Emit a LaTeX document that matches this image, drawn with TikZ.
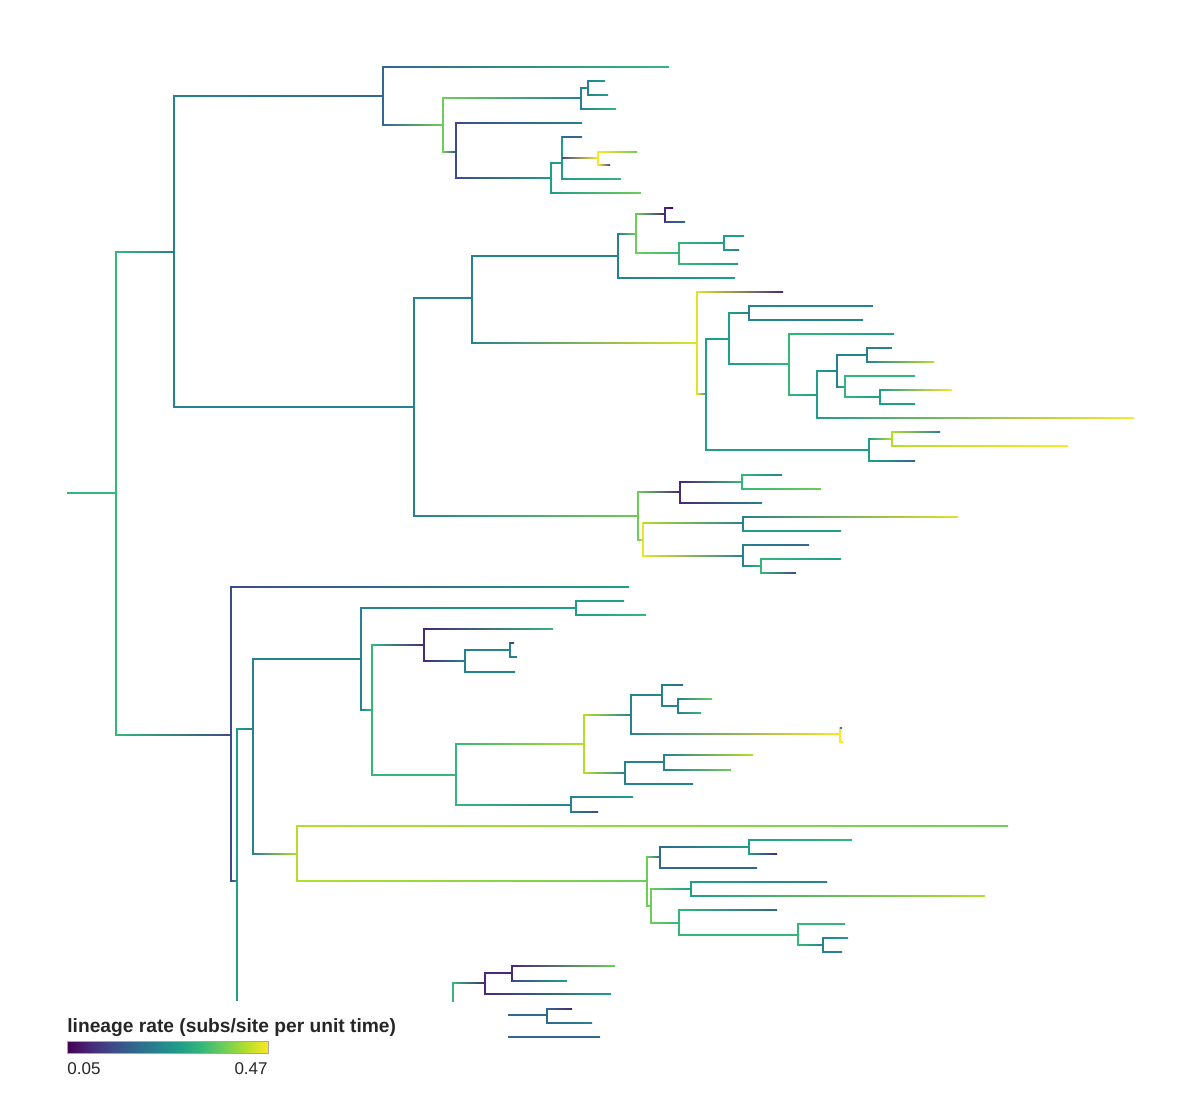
\documentclass[tikz,border=0pt]{standalone}
\usepackage{fontspec}
\setmainfont{Liberation Sans}
\usepackage{xcolor}
\usepackage{tikz}
\usetikzlibrary{calc}

% viridis stops
\definecolor{vA}{HTML}{440154}
\definecolor{vB}{HTML}{482878}
\definecolor{vC}{HTML}{3E4A89}
\definecolor{vD}{HTML}{31688E}
\definecolor{vE}{HTML}{26828E}
\definecolor{vF}{HTML}{1F9E89}
\definecolor{vG}{HTML}{35B779}
\definecolor{vH}{HTML}{6DCD59}
\definecolor{vI}{HTML}{B4DE2C}
\definecolor{vJ}{HTML}{FDE725}
\colorlet{vK}{vI!40!vJ}

\pgfdeclarehorizontalshading{viridis}{100bp}{color(0bp)=(vA); color(25bp)=(vA);
  color(30.556bp)=(vB); color(36.111bp)=(vC); color(41.667bp)=(vD);
  color(47.222bp)=(vE); color(52.778bp)=(vF); color(58.333bp)=(vG);
  color(63.889bp)=(vH); color(69.444bp)=(vI); color(75bp)=(vJ); color(100bp)=(vJ)}

% node: name, x, y, top, bottom, colour
\newcommand{\tnode}[6]{%
  \coordinate (#1) at (#2,#3);
  \draw[branch,#6] (#2,#4) -- (#2,#5);}
% branch from parent to child, colour at parent, colour at child
\newcommand{\tedge}[4]{%
  \shade[left color=#3,right color=#4] let \p1=(#1),\p2=(#2) in
    (\x1,\y2-0.42pt) rectangle (\x2,\y2+0.42pt);}
% tip: parent, x of tip, y, colour at parent, colour at tip
\newcommand{\tleaf}[5]{%
  \shade[left color=#4,right color=#5] let \p1=(#1),\p2=(#2,#3) in
    (\x1,\y2-0.42pt) rectangle (\x2,\y2+0.42pt);}

\begin{document}
\begin{tikzpicture}[
    x=0.5pt, y=-0.5pt,
    branch/.style={line width=0.9pt, line cap=rect},
    legtitle/.style={inner sep=0, text=black!85, font=\fontsize{9.6}{11}\selectfont\bfseries},
    legvalue/.style={inner sep=0, text=black!85, font=\fontsize{8.5}{10}\selectfont},
    colourbar/.style={shade, shading=viridis, draw=black!35, line width=0.4pt,
        inner sep=0, minimum width=100.5pt, minimum height=6pt}
]
\useasboundingbox (0,0) rectangle (1200,1104);

% root
\coordinate (stem) at (67,493);
\tnode{nA}{116}{493}{252}{735}{vG}
\tedge{stem}{nA}{vG}{vG}
\tnode{nB}{174}{252}{96}{407}{vE}
\tedge{nA}{nB}{vG}{vE}

% upper clade
\tnode{nD}{383}{96}{67}{125}{vD}
\tedge{nB}{nD}{vE}{vD}
\tleaf{nD}{669}{67}{vD}{vG}
\tnode{nF}{443}{125}{98}{152}{vH}
\tedge{nD}{nF}{vD}{vH}
\tnode{nG}{581}{98}{88}{109}{vE}
\tedge{nF}{nG}{vH}{vE}
\tnode{nGa}{588}{88}{81}{95}{vE}
\tedge{nG}{nGa}{vE}{vE}
\tleaf{nGa}{605}{81}{vE}{vF}
\tleaf{nGa}{608}{95}{vE}{vF}
\tleaf{nG}{616}{109}{vE}{vG}
\tnode{nH}{456}{152}{123}{178}{vC}
\tedge{nF}{nH}{vH}{vC}
\tleaf{nH}{582}{123}{vC}{vE}
\tnode{nI}{551}{178}{163}{193}{vF}
\tedge{nH}{nI}{vC}{vF}
\tleaf{nI}{641}{193}{vF}{vH}
\tnode{nJ}{562}{163}{137}{179}{vF}
\tedge{nI}{nJ}{vF}{vF}
\tleaf{nJ}{582}{137}{vD}{vD}
\tnode{nK}{598}{158}{152}{165}{vJ}
\tedge{nJ}{nK}{vC}{vJ}
\tleaf{nK}{637}{152}{vJ}{vH}
\tleaf{nK}{610}{165}{vJ}{vC}
\tleaf{nJ}{621}{179}{vF}{vG}

\tnode{nE}{414}{407}{298}{516}{vE}
\tedge{nB}{nE}{vE}{vE}
\tnode{nL}{472}{298}{256}{343}{vE}
\tedge{nE}{nL}{vE}{vE}
\tnode{nN}{618}{256}{234}{278}{vE}
\tedge{nL}{nN}{vE}{vE}
\tnode{nP}{636}{234}{214}{253}{vH}
\tedge{nN}{nP}{vE}{vH}
\tnode{nQ}{665}{214}{208}{222}{vB}
\tedge{nP}{nQ}{vH}{vB}
\tleaf{nQ}{673}{208}{vB}{vA}
\tleaf{nQ}{685}{222}{vC}{vD}
\tnode{nR}{679}{253}{243}{264}{vG}
\tedge{nP}{nR}{vH}{vG}
\tnode{nS}{724}{243}{236}{250}{vF}
\tedge{nR}{nS}{vG}{vF}
\tleaf{nS}{744}{236}{vF}{vF}
\tleaf{nS}{739}{250}{vF}{vE}
\tleaf{nR}{738}{264}{vG}{vF}
\tleaf{nN}{735}{278}{vE}{vF}

\tnode{nO}{697}{343}{292}{394}{vK}
\tedge{nL}{nO}{vE}{vK}
\tleaf{nO}{783}{292}{vK}{vB}
\tnode{nT}{706}{394}{339}{450}{vF}
\tedge{nO}{nT}{vK}{vF}
\tnode{nU}{729}{339}{313}{364}{vF}
\tedge{nT}{nU}{vF}{vF}
\tnode{nW}{749}{313}{306}{320}{vE}
\tedge{nU}{nW}{vF}{vE}
\tleaf{nW}{873}{306}{vE}{vE}
\tleaf{nW}{863}{320}{vE}{vE}
\tnode{nX}{789}{364}{334}{395}{vG}
\tedge{nU}{nX}{vF}{vG}
\tleaf{nX}{894}{334}{vG}{vF}
\tnode{nY}{817}{395}{371}{418}{vF}
\tedge{nX}{nY}{vG}{vF}
\tnode{nZ}{837}{371}{355}{387}{vE}
\tedge{nY}{nZ}{vF}{vE}
\tnode{nAA}{867}{355}{348}{362}{vE}
\tedge{nZ}{nAA}{vE}{vE}
\tleaf{nAA}{892}{348}{vE}{vE}
\tleaf{nAA}{934}{362}{vE}{vI}
\tnode{nAB}{845}{387}{376}{397}{vG}
\tedge{nZ}{nAB}{vE}{vG}
\tleaf{nAB}{915}{376}{vG}{vG}
\tnode{nAC}{880}{397}{390}{404}{vF}
\tedge{nAB}{nAC}{vG}{vF}
\tleaf{nAC}{952}{390}{vF}{vJ}
\tleaf{nAC}{915}{404}{vF}{vF}
\tleaf{nY}{1134}{418}{vF}{vJ}
\tnode{nV}{869}{450}{439}{461}{vF}
\tedge{nT}{nV}{vF}{vF}
\tnode{nAD}{892}{439}{432}{446}{vI}
\tedge{nV}{nAD}{vF}{vI}
\tleaf{nAD}{940}{432}{vI}{vE}
\tleaf{nAD}{1068}{446}{vI}{vJ}
\tleaf{nV}{915}{461}{vF}{vD}

\tnode{nM}{638}{516}{492}{540}{vH}
\tedge{nE}{nM}{vE}{vH}
\tnode{nAE}{680}{492}{482}{503}{vB}
\tedge{nM}{nAE}{vH}{vB}
\tnode{nAG}{742}{482}{475}{489}{vG}
\tedge{nAE}{nAG}{vB}{vG}
\tleaf{nAG}{782}{475}{vG}{vE}
\tleaf{nAG}{821}{489}{vG}{vH}
\tleaf{nAE}{762}{503}{vB}{vE}
\tnode{nAF}{643}{540}{523}{556}{vI!30!vJ}
\tedge{nM}{nAF}{vH}{vI!30!vJ}
\tnode{nAH}{743}{523}{517}{531}{vE}
\tedge{nAF}{nAH}{vI}{vE}
\tleaf{nAH}{958}{517}{vE}{vK}
\tleaf{nAH}{841}{531}{vF}{vF}
\tnode{nAI}{743}{556}{545}{566}{vE}
\tedge{nAF}{nAI}{vI!30!vJ}{vE}
\tleaf{nAI}{809}{545}{vE}{vD}
\tnode{nAJ}{761}{566}{559}{573}{vG}
\tedge{nAI}{nAJ}{vE}{vG}
\tleaf{nAJ}{841}{559}{vG}{vF}
\tleaf{nAJ}{796}{573}{vG}{vC}

% lower clade
\tnode{nC}{231}{735}{587}{881}{vC}
\tedge{nA}{nC}{vG}{vC}
\tleaf{nC}{629}{587}{vC}{vF}
\tnode{nAK}{237}{881}{729}{1000}{vF}
\tedge{nC}{nAK}{vC}{vF}
\tnode{nAL}{253}{729}{659}{854}{vE}
\tedge{nAK}{nAL}{vF}{vE}
\tnode{nAM}{361}{659}{608}{710}{vE}
\tedge{nAL}{nAM}{vE}{vE}
\tnode{nAN}{576}{608}{601}{615}{vF}
\tedge{nAM}{nAN}{vE}{vF}
\tleaf{nAN}{624}{601}{vF}{vF}
\tleaf{nAN}{646}{615}{vF}{vG}
\tnode{nAO}{372}{710}{645}{775}{vG}
\tedge{nAM}{nAO}{vE}{vG}
\tnode{nAP}{424}{645}{629}{661}{vB}
\tedge{nAO}{nAP}{vG}{vB}
\tleaf{nAP}{553}{629}{vB}{vG}
\tnode{nAR}{465}{661}{650}{672}{vE}
\tedge{nAP}{nAR}{vB}{vE}
\tnode{nAS}{510}{650}{643}{657}{vE}
\tedge{nAR}{nAS}{vE}{vE}
\tleaf{nAS}{514}{643}{vC}{vC}
\tleaf{nAS}{517}{657}{vE}{vE}
\tleaf{nAR}{515}{672}{vE}{vE}
\tnode{nAQ}{456}{775}{744}{805}{vG}
\tedge{nAO}{nAQ}{vG}{vG}
\tnode{nAT}{584}{744}{715}{773}{vI}
\tedge{nAQ}{nAT}{vG}{vI}
\tnode{nAV}{631}{715}{695}{734}{vE}
\tedge{nAT}{nAV}{vI}{vE}
\tnode{nAX}{662}{695}{685}{706}{vE}
\tedge{nAV}{nAX}{vE}{vE}
\tleaf{nAX}{683}{685}{vE}{vD}
\tnode{nAY}{678}{706}{699}{713}{vE}
\tedge{nAX}{nAY}{vE}{vE}
\tleaf{nAY}{712}{699}{vE}{vH}
\tleaf{nAY}{701}{713}{vE}{vG}
\tnode{nAVb}{840}{734}{728}{742}{vJ}
\tedge{nAV}{nAVb}{vE}{vJ}
\tleaf{nAVb}{842}{728}{vE}{vE}
\tleaf{nAVb}{843}{742}{vJ}{vJ}
\tnode{nAW}{625}{773}{762}{784}{vE}
\tedge{nAT}{nAW}{vI}{vE}
\tnode{nAZ}{664}{762}{755}{770}{vE}
\tedge{nAW}{nAZ}{vE}{vE}
\tleaf{nAZ}{753}{755}{vE}{vI}
\tleaf{nAZ}{731}{770}{vE}{vH}
\tleaf{nAW}{693}{784}{vE}{vE}
\tnode{nAU}{571}{805}{797}{812}{vE}
\tedge{nAQ}{nAU}{vG}{vE}
\tleaf{nAU}{633}{797}{vE}{vF}
\tleaf{nAU}{598}{812}{vE}{vC}

\tnode{nBA}{297}{854}{826}{881}{vI}
\tedge{nAL}{nBA}{vE}{vI}
\tleaf{nBA}{1008}{826}{vI}{vH}
\tnode{nBB}{647}{881}{857}{906}{vH}
\tedge{nBA}{nBB}{vI}{vH}
\tnode{nBC}{660}{857}{847}{868}{vD}
\tedge{nBB}{nBC}{vH}{vD}
\tnode{nBE}{749}{847}{840}{854}{vF}
\tedge{nBC}{nBE}{vD}{vF}
\tleaf{nBE}{852}{840}{vF}{vG}
\tleaf{nBE}{777}{854}{vF}{vB}
\tleaf{nBC}{757}{868}{vD}{vD}
\tnode{nBD}{651}{906}{889}{923}{vH}
\tedge{nBB}{nBD}{vH}{vH}
\tnode{nBF}{691}{889}{882}{896}{vF}
\tedge{nBD}{nBF}{vH}{vF}
\tleaf{nBF}{827}{882}{vF}{vE}
\tleaf{nBF}{985}{896}{vF}{vI}
\tnode{nBG}{679}{923}{910}{935}{vG}
\tedge{nBD}{nBG}{vH}{vG}
\tleaf{nBG}{777}{910}{vG}{vD}
\tnode{nBH}{798}{935}{924}{945}{vG}
\tedge{nBG}{nBH}{vG}{vG}
\tleaf{nBH}{845}{924}{vG}{vG}
\tnode{nBI}{823}{945}{938}{952}{vE}
\tedge{nBH}{nBI}{vG}{vE}
\tleaf{nBI}{848}{938}{vE}{vF}
\tleaf{nBI}{842}{952}{vE}{vE}

% bottom pieces
\tnode{nBX}{453}{983}{983}{1001}{vG}
\tnode{nBJ}{485}{983}{973}{994}{vB}
\tedge{nBX}{nBJ}{vG}{vB}
\tnode{nBK}{512}{973}{966}{981}{vB}
\tedge{nBJ}{nBK}{vB}{vB}
\tleaf{nBK}{615}{966}{vB}{vH}
\tleaf{nBK}{567}{981}{vC}{vF}
\tleaf{nBJ}{611}{994}{vB}{vF}
\coordinate (cutA) at (508,1015);
\tnode{nBL}{547}{1015}{1009}{1023}{vD}
\tedge{cutA}{nBL}{vD}{vD}
\tleaf{nBL}{572}{1009}{vD}{vB}
\tleaf{nBL}{592}{1023}{vD}{vE}
\coordinate (cutB) at (508,1037);
\tleaf{cutB}{600}{1037}{vD}{vD}

% legend
\node[legtitle, anchor=base west] (legend) at (67,1032) {lineage rate (subs/site per unit time)};
\node[colourbar, anchor=north west] (cbar) at (67,1041) {};
\node[legvalue, anchor=base west] (cmin) at (67,1074) {0.05};
\node[legvalue, anchor=base east] (cmax) at (268,1074) {0.47};
\end{tikzpicture}
\end{document}
